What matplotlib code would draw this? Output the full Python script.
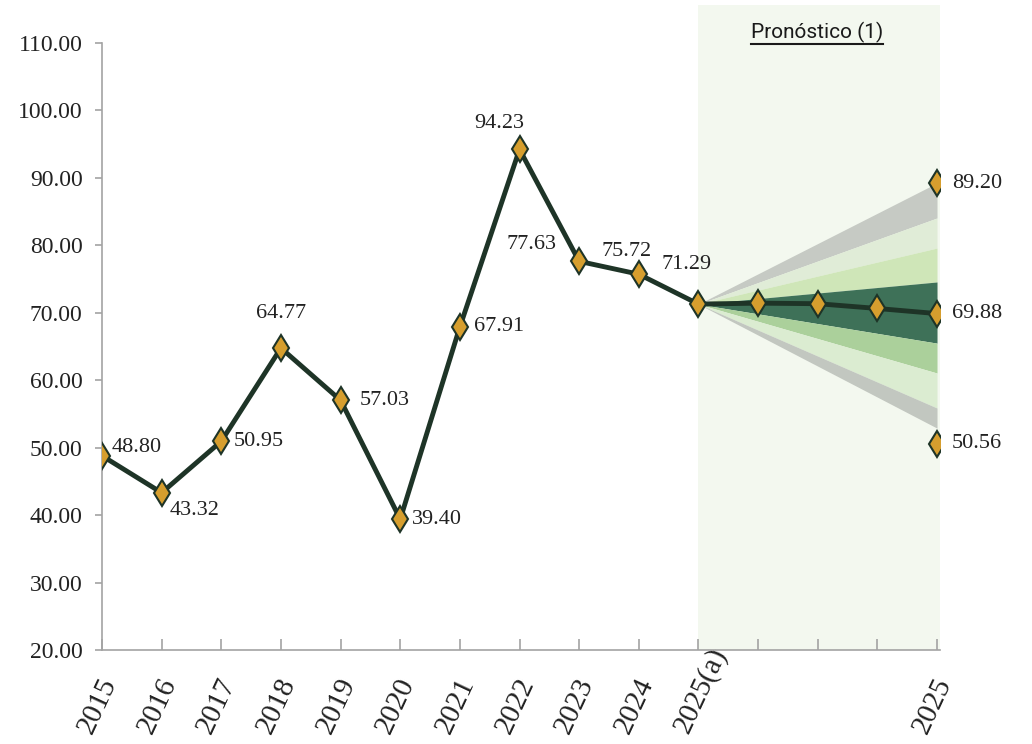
import matplotlib
matplotlib.use("Agg")
import matplotlib.pyplot as plt
import numpy as np

# ---------------- data ----------------
categories = ["2015", "2016", "2017", "2018", "2019", "2020", "2021", "2022",
              "2023", "2024", "2025(a)", "", "", "", "2025"]
hist_values = [48.80, 43.32, 50.95, 64.77, 57.03, 39.40, 67.91, 94.23, 77.63, 75.72, 71.29]
forecast_values = [71.29, 71.43, 71.35, 70.64, 69.88]
upper_point = 89.20
lower_point = 50.56
# fan band edges at the end of the forecast (start at 71.29)
fan_upper = [89.25, 84.06, 79.60, 74.57]
fan_lower = [65.50, 61.07, 55.88, 52.90]
fan_colors_upper = ["#c6cac4", "#e0ecd7", "#cfe6b8"]
fan_center_color = "#3e7158"
fan_colors_lower = ["#abd09b", "#dbecd1", "#c2c7c0"]
yticks = [20, 30, 40, 50, 60, 70, 80, 90, 100, 110]
title_text = "Pronóstico (1)"

# label offsets (pixels) and alignment for data labels
hist_label_offsets = [(10, 8, "left"), (8, -18, "left"), (12, 0, "left"), (0, 35, "center"),
                      (19, 0, "left"), (12, 0, "left"), (14, 0, "left"), (-20, 26, "center"),
                      (-23, 17, "right"), (-12, 23, "center"), (-12, 40, "center")]

LINE = "#1e3427"
MFACE = "#d69e2e"
GREY = "#a3a3a3"
SERIF = ["Liberation Serif", "DejaVu Serif"]

fig = plt.figure(figsize=(10.32, 7.44), dpi=100)
ax = fig.add_axes([102 / 1032, (744 - 650) / 744, 838 / 1032, 645 / 744])
ax.set_xlim(0, 14.05)
ax.set_ylim(20, 115.64)

n_hist = len(hist_values)
x_hist = np.arange(n_hist)
x_fc = np.arange(n_hist - 1, n_hist - 1 + len(forecast_values))
x0, x1 = x_fc[0], x_fc[-1]
start = forecast_values[0]

# forecast shaded region
ax.axvspan(x0, 14.05, ymin=0, ymax=1, color="#f3f8ef", zorder=0, lw=0)

# fan chart
edges = fan_upper + fan_lower
colors = fan_colors_upper + [fan_center_color] + fan_colors_lower
for i, c in enumerate(colors):
    top = edges[i]
    bot = edges[i + 1]
    ax.fill_between([x0, x1], [start, top], [start, bot], color=c, lw=0, zorder=1)

# lines
ax.plot(x_hist, hist_values, color=LINE, lw=3.5, zorder=3, solid_capstyle="round")
ax.plot(x_fc, forecast_values, color=LINE, lw=3.5, zorder=3, solid_capstyle="round")
mk = dict(marker="d", markersize=13, markerfacecolor=MFACE, markeredgecolor=LINE,
          markeredgewidth=1.5, linestyle="none", zorder=4)
ax.plot(x_hist, hist_values, **mk)
ax.plot(x_fc[1:], forecast_values[1:], **mk)
ax.plot([x1, x1], [upper_point, lower_point], **mk)

# data labels
for xi, v, (dx, dy, ha) in zip(x_hist, hist_values, hist_label_offsets):
    ax.annotate(f"{v:.2f}", (xi, v), xytext=(dx, dy), textcoords="offset pixels",
                ha=ha, va="center", fontsize=16, family=SERIF, color="#222222", zorder=5)
for v in [upper_point, forecast_values[-1], lower_point]:
    ax.annotate(f"{v:.2f}", (x1, v), xytext=(15, 0), textcoords="offset pixels",
                ha="left", va="center", fontsize=16, family=SERIF, color="#222222", zorder=5)

# axes styling
for s in ["top", "right"]:
    ax.spines[s].set_visible(False)
ax.spines["left"].set_color(GREY)
ax.spines["bottom"].set_color(GREY)
ax.spines["left"].set_linewidth(1.2)
ax.spines["bottom"].set_linewidth(1.2)
ax.spines["left"].set_bounds(20, 110)
ax.set_yticks(yticks)
ax.set_yticklabels([f"{t:.2f}" for t in yticks], family=SERIF, fontsize=17, color="#222222")
ax.tick_params(axis="y", direction="out", length=5, width=1.2, color=GREY, pad=9)
ax.set_xticks(np.arange(len(categories)))
ax.set_xticklabels([""] * len(categories))
ax.tick_params(axis="x", direction="in", length=8, width=1.2, color=GREY)

# rotated year labels
for i, lab in enumerate(categories):
    if lab:
        ax.text(i - 0.08, -0.135, lab, transform=ax.get_xaxis_transform(),
                rotation=65, rotation_mode="anchor", ha="left", va="bottom",
                fontsize=21, family=SERIF, color="#222222", clip_on=False)

# title with underline
title = fig.text(817 / 1032, 1 - 32 / 744, title_text, ha="center", va="center",
                 fontsize=15, family=["Liberation Sans Narrow", "Roboto", "DejaVu Sans"],
                 color="#1a1a1a")
fig.canvas.draw()
bb = title.get_window_extent()
fig.add_artist(matplotlib.lines.Line2D([bb.x0, bb.x1], [bb.y0 - 1, bb.y0 - 1],
                                       transform=None, color="#1a1a1a", lw=1.5))

fig.savefig("out.png", dpi=100)
